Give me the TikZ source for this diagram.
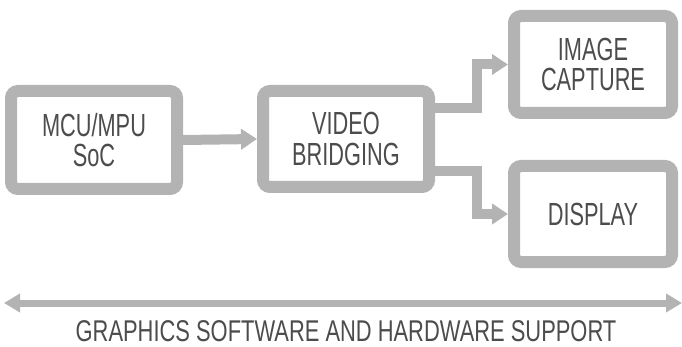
\documentclass[tikz,border=0pt]{standalone}
\usepackage{fontspec}
\setmainfont[FakeStretch=0.68]{Liberation Sans}
\newfontfamily\lblfont[FakeStretch=0.73]{Liberation Sans}
\usetikzlibrary{arrows.meta}
\definecolor{boxgray}{HTML}{B3B3B3}
\definecolor{txtgray}{HTML}{4C4C4C}
\begin{document}
\begin{tikzpicture}[x=1pt,y=-1pt,
  blk/.style={draw=boxgray, line width=12pt, rounded corners=7pt, fill=white,
    align=center, text=txtgray, font=\fontsize{32}{30.5}\selectfont, inner sep=0pt},
  conn/.style={draw=boxgray, line width=10pt, -{Triangle[length=16pt,width=20pt]}},
  span/.style={draw=boxgray, line width=7pt, {Triangle[length=16pt,width=18pt]}-{Triangle[length=16pt,width=18pt]}}]
\useasboundingbox (0,0) rectangle (682,347);
\node[blk, minimum width=166pt, minimum height=98pt] (mcu) at (94,140) {MCU/MPU\\SoC};
\node[blk, minimum width=166pt, minimum height=96pt] (vid) at (346,139) {VIDEO\\BRIDGING};
\node[blk, minimum width=158pt, minimum height=97pt] (cap) at (593,64.5) {IMAGE\\CAPTURE};
\node[blk, minimum width=158pt, minimum height=96pt] (disp) at (593,214) {DISPLAY};
\draw[conn] (mcu.east) -- (vid.west);
\draw[conn] ([yshift=31pt]vid.east) -- ++(42,0) |- (cap.west);
\draw[conn] ([yshift=-32pt]vid.east) -- ++(42,0) |- (disp.west);
\coordinate (sl) at (4,303);
\coordinate (sr) at (682,303);
\draw[span] (sl) -- (sr);
\node[text=txtgray, font=\lblfont\fontsize{30}{30}\selectfont, inner sep=0pt] (lbl) at (346,331) {GRAPHICS SOFTWARE AND HARDWARE SUPPORT};
\end{tikzpicture}
\end{document}
